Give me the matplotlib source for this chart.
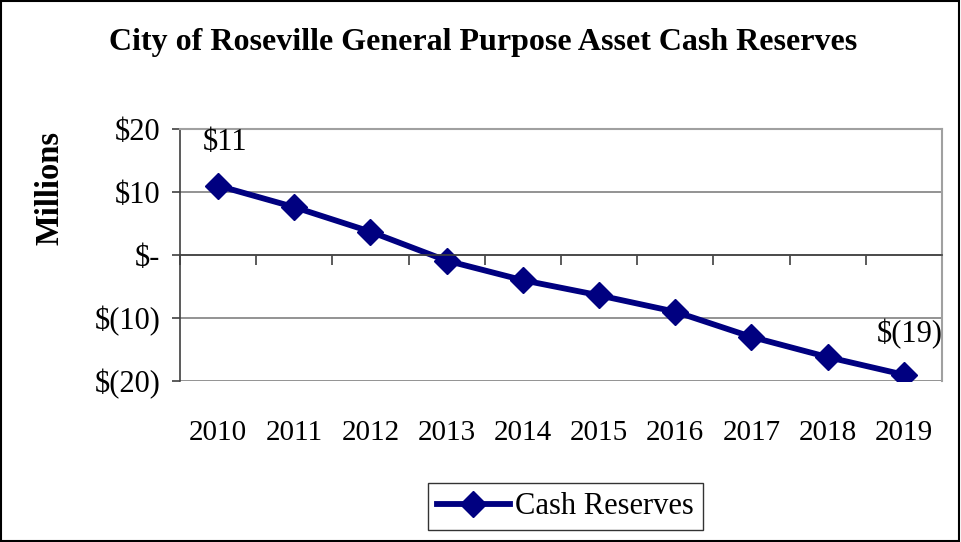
import matplotlib.pyplot as plt
from matplotlib.patches import Rectangle

years = ['2010', '2011', '2012', '2013', '2014', '2015', '2016', '2017', '2018', '2019']
reserves = [11.0, 7.6, 3.7, -0.9, -4.0, -6.4, -9.0, -13.0, -16.2, -19.0]
ytick_vals = [20, 10, 0, -10, -20]
ytick_labels = ['$20', '$10', '$-', '$(10)', '$(20)']

plt.rcParams['font.family'] = ['Liberation Serif', 'DejaVu Serif']

fig = plt.figure(figsize=(9.61, 5.42), dpi=100)
fig.add_artist(Rectangle((0.001, 0.002), 0.997, 0.996, transform=fig.transFigure,
                         fill=False, edgecolor='black', linewidth=1.5))
ax = fig.add_axes([0.1873, 0.297, 0.7929, 0.465])

x = list(range(1, len(years) + 1))
line, = ax.plot(x, reserves, color='#000080', linewidth=4.2, marker='D',
                markersize=13.5, label='Cash Reserves')

ax.set_xlim(0.5, len(years) + 0.5)
ax.set_ylim(-20, 20)
ax.set_yticks(ytick_vals)
ax.set_yticklabels(ytick_labels, fontsize=22)
ax.grid(axis='y', color='#808080', linewidth=1.2)
ax.set_axisbelow(True)

# plot-area border
for side in ['top', 'right']:
    ax.spines[side].set_color('#a0a0a0')
    ax.spines[side].set_linewidth(1.5)
ax.spines['left'].set_color('#404040')
ax.spines['left'].set_linewidth(1.2)
ax.tick_params(axis='y', direction='out', length=6, width=1.2, color='#404040', pad=8)

# category axis crosses at zero, labels sit below the plot area
ax.spines['bottom'].set_position(('data', 0))
ax.spines['bottom'].set_color('#404040')
ax.spines['bottom'].set_linewidth(1.2)
ax.set_xticks([i + 0.5 for i in range(len(years) + 1)])
ax.set_xticklabels([])
ax.tick_params(axis='x', direction='out', length=7, width=1.2, color='#404040')

sec = ax.secondary_xaxis(0)
sec.set_xticks(x)
sec.set_xticklabels(years, fontsize=21)
sec.tick_params(length=0, pad=28)
sec.spines['bottom'].set_visible(False)

# end-point data labels
ax.annotate('$%d' % round(reserves[0]), (x[0], reserves[0]), xytext=(5, 31),
            textcoords='offset points', ha='center', va='center', fontsize=22)
ax.annotate('$(%d)' % abs(round(reserves[-1])), (x[-1], reserves[-1]), xytext=(4.5, 29.5),
            textcoords='offset points', ha='center', va='center', fontsize=22)

fig.text(0.503, 0.922, 'City of Roseville General Purpose Asset Cash Reserves',
         ha='center', va='center', fontsize=23, fontweight='bold')
fig.text(0.052, 0.654, 'Millions', rotation=90, ha='center', va='center',
         fontsize=23.5, fontweight='bold')

leg = fig.legend(handles=[line], loc='center', bbox_to_anchor=(0.588, 0.065),
                 fontsize=22, frameon=True, fancybox=False, handlelength=2.4,
                 borderpad=0.3, handletextpad=0.15, borderaxespad=0)
leg.get_frame().set_edgecolor('black')
leg.get_frame().set_linewidth(1.0)

fig.savefig('out.png', dpi=100)
